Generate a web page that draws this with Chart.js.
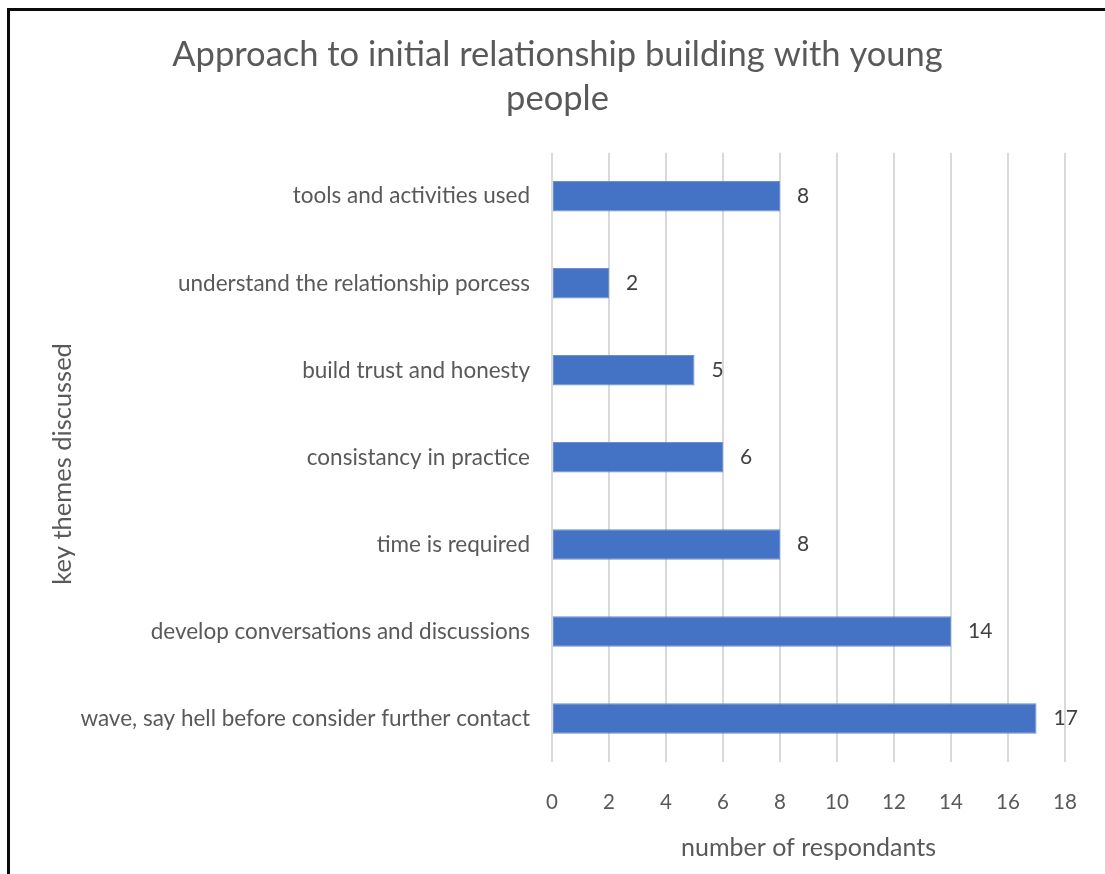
<!DOCTYPE html>
<html>
<head>
<meta charset="utf-8">
<title>Approach to initial relationship building with young people</title>
<script src="https://cdn.jsdelivr.net/npm/chart.js@4/dist/chart.umd.min.js"></script>
<style>
  html, body { margin: 0; padding: 0; background: #ffffff; }
  #wrap { position: relative; width: 1105px; height: 874px; overflow: hidden; }
  #frame {
    position: absolute; left: 7px; top: 8px; width: 1200px; height: 1000px;
    border-left: 3px solid #0a0a0a; border-top: 3px solid #0a0a0a;
    box-sizing: border-box;
  }
  #chart { position: absolute; left: 0; top: 0; }
</style>
</head>
<body>
<div id="wrap">
  <div id="frame"></div>
  <canvas id="chart" width="1105" height="874"></canvas>
</div>
<script>
// Themes, listed top to bottom as they appear on the axis
const categories = [
  'tools and activities used',
  'understand the relationship porcess',
  'build trust and honesty',
  'consistancy in practice',
  'time is required',
  'develop conversations and discussions',
  'wave, say hell before consider further contact'
];
// Number of respondants per theme
const respondants = [8, 2, 5, 6, 8, 14, 17];
// Horizontal axis ticks
const xTicks = [0, 2, 4, 6, 8, 10, 12, 14, 16, 18];

const titleLines = ['Approach to initial relationship building with young', 'people'];
const xTitle = 'number of respondants';
// trailing spaces nudge the rotated title a little lower along the axis
const yTitle = 'key themes discussed  ';

const FONT = 'Lato, "Open Sans", sans-serif';
const GREY = '#595959';

// Writes each bar's value just past its end
const valueLabels = {
  id: 'valueLabels',
  afterDatasetsDraw(chart) {
    const ctx = chart.ctx;
    const meta = chart.getDatasetMeta(0);
    const data = chart.data.datasets[0].data;
    ctx.save();
    ctx.font = '21px ' + FONT;
    ctx.fillStyle = '#404040';
    ctx.textAlign = 'left';
    ctx.textBaseline = 'middle';
    meta.data.forEach((bar, i) => {
      ctx.fillText(String(data[i]), bar.x + 17, bar.y);
    });
    ctx.restore();
  }
};

new Chart(document.getElementById('chart'), {
  type: 'bar',
  data: {
    labels: categories,
    datasets: [{
      data: respondants,
      backgroundColor: '#4472C4',
      borderColor: '#6a8fd3',
      borderWidth: 1,
      borderSkipped: false,
      categoryPercentage: 1,
      barPercentage: 0.35
    }]
  },
  options: {
    indexAxis: 'y',
    responsive: false,
    animation: false,
    devicePixelRatio: 1,
    layout: { padding: { left: 50, right: 40, top: 0, bottom: 0 } },
    plugins: {
      legend: { display: false },
      tooltip: { enabled: false },
      title: {
        display: true,
        text: titleLines,
        color: GREY,
        font: { family: FONT, size: 34.5, weight: 'normal', lineHeight: 1.3 },
        padding: { top: 32, bottom: 31 }
      }
    },
    scales: {
      x: {
        type: 'linear',
        min: 0,
        max: 18,
        afterBuildTicks(scale) {
          scale.ticks = xTicks.map(v => ({ value: v }));
        },
        afterFit(scale) { scale.height = 112; },
        grid: { color: '#d9d9d9', lineWidth: 2, drawTicks: false },
        border: { display: false },
        ticks: { color: GREY, font: { family: FONT, size: 20.5 }, padding: 28 },
        title: {
          display: true,
          text: xTitle,
          color: GREY,
          font: { family: FONT, size: 25, lineHeight: 1.2 },
          padding: { top: 0, bottom: 11 }
        }
      },
      y: {
        type: 'category',
        afterFit(scale) { scale.width = 502; },
        grid: { display: false, drawTicks: false },
        border: { display: false },
        ticks: { color: GREY, font: { family: FONT, size: 22.5 }, padding: 22 },
        title: {
          display: true,
          text: yTitle,
          color: GREY,
          font: { family: FONT, size: 25.5, lineHeight: 1.0 },
          padding: { top: 0, bottom: 0 }
        }
      }
    }
  },
  plugins: [valueLabels]
});
</script>
</body>
</html>
